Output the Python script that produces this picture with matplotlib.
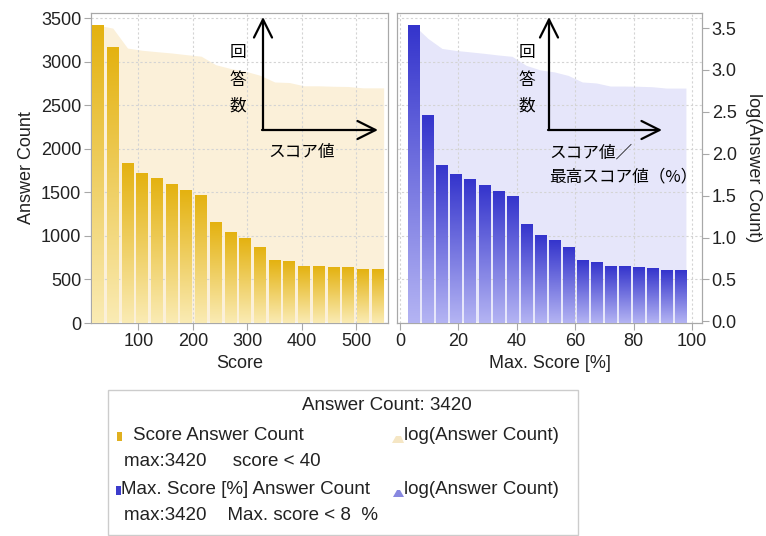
import numpy as np
import matplotlib
matplotlib.use("Agg")
import matplotlib.pyplot as plt
from matplotlib.colors import LinearSegmentedColormap
from matplotlib.patches import Rectangle, Polygon

# data
score_bins = [26, 53, 80, 107, 134, 161, 188, 215, 242, 269,
              296, 323, 350, 377, 404, 431, 458, 485, 512, 539]
score_counts = [3420, 3160, 1825, 1718, 1653, 1595, 1523, 1461, 1155, 1041,
                968, 865, 719, 708, 647, 647, 639, 635, 612, 612]

pct_bins = [4.8, 9.6, 14.4, 19.2, 24.0, 28.8, 33.6, 38.4, 43.2, 48.0,
            52.8, 57.6, 62.4, 67.2, 72.0, 76.8, 81.6, 86.4, 91.2, 96.0]
pct_counts = [3420, 2380, 1806, 1710, 1645, 1580, 1511, 1454, 1136, 1002,
              949, 861, 719, 700, 643, 643, 639, 631, 608, 608]

score_ticks = [100, 200, 300, 400, 500]
pct_ticks = [0, 20, 40, 60, 80, 100]
count_ticks = [0, 500, 1000, 1500, 2000, 2500, 3000, 3500]
log_ticks = [0.0, 0.5, 1.0, 1.5, 2.0, 2.5, 3.0, 3.5]

W, H = 766, 536
plt.rcParams["font.family"] = ["Liberation Sans", "DejaVu Sans"]
CJK = ["Noto Sans CJK JP", "DejaVu Sans"]
TXT = "#222222"
GRID = "#d4d4d4"
SPINE = "#a8a8a8"

gold_cmap = LinearSegmentedColormap.from_list("gold", ["#FAEBB4", "#E4B210"])
blue_cmap = LinearSegmentedColormap.from_list("blue", ["#B4B4F3", "#3434CC"])


def frac(x0, y0, x1, y1):
    return [x0 / W, 1 - y1 / H, (x1 - x0) / W, (y1 - y0) / H]


def draw_panel(ax, ax_log, centers, counts, width, cmap, area_color, xlim):
    grad = np.linspace(0, 1, 256).reshape(-1, 1)
    for c, v in zip(centers, counts):
        ax.imshow(grad, extent=(c - width / 2, c + width / 2, 0, v),
                  origin="lower", cmap=cmap, aspect="auto", zorder=3)
    logs = np.log10(counts)
    xs = np.concatenate([[centers[0] - width / 2], centers, [centers[-1] + width / 2]])
    ys = np.concatenate([[logs[0]], logs, [logs[-1]]])
    ax_log.fill_between(xs, 0, ys, color=area_color, lw=0, zorder=1)
    ax.set_zorder(ax_log.get_zorder() + 1)
    ax.patch.set_visible(False)
    ax.set_xlim(*xlim)
    ax.set_ylim(0, 3558)
    ax_log.set_ylim(-0.02, 3.68)
    ax.set_yticks(count_ticks)
    ax_log.set_yticks(log_ticks)
    ax.grid(True, linestyle=(0, (2, 2)), color=GRID, lw=0.8)
    ax.set_axisbelow(True)
    for a in (ax, ax_log):
        for s in a.spines.values():
            s.set_color(SPINE)
        a.tick_params(colors=SPINE, labelcolor=TXT, labelsize=13, length=5, pad=2)


fig = plt.figure(figsize=(W / 100, H / 100), dpi=100)

ax1 = fig.add_axes(frac(91, 13, 388, 323))
ax1_log = ax1.twinx()
draw_panel(ax1, ax1_log, score_bins, score_counts, 22, gold_cmap, "#FBF0D9", (13, 558))
ax1.set_xticks(score_ticks)
ax1.set_xlabel("Score", fontsize=13, color=TXT)
ax1.set_ylabel("Answer Count", fontsize=13, color=TXT)
ax1_log.tick_params(right=False, labelright=False)

ax2 = fig.add_axes(frac(397, 13, 702, 323), sharey=ax1)
ax2_log = ax2.twinx()
draw_panel(ax2, ax2_log, pct_bins, pct_counts, 3.8, blue_cmap, "#E6E6FA", (-1, 103.4))
ax2.set_xticks(pct_ticks)
ax2.set_xlabel("Max. Score [%]", fontsize=13, color=TXT)
ax2.tick_params(left=False, labelleft=False)
ax2_log.set_yticklabels([f"{t:.1f}" for t in log_ticks])
ax2_log.set_ylabel("log(Answer Count)", fontsize=13, color=TXT, rotation=270, labelpad=18)

# overlay in pixel coordinates for arrows, notes and legend
ov = fig.add_axes([0, 0, 1, 1], zorder=10)
ov.set_xlim(0, W)
ov.set_ylim(H, 0)
ov.axis("off")
ov.patch.set_visible(False)

arrow = dict(arrowstyle="->,head_length=1.3,head_width=0.65", lw=1.6,
             color="black", shrinkA=0, shrinkB=0, mutation_scale=10)
for x0, x1 in ((263, 378), (549, 662)):
    ov.annotate("", xy=(x0, 17), xytext=(x0, 130), arrowprops=arrow)
    ov.annotate("", xy=(x1, 130), xytext=(x0 - 1, 130), arrowprops=arrow)

for xc in (238, 527):
    for ch, yc in zip("回答数", (52, 80, 106)):
        ov.text(xc, yc, ch, family=CJK, fontsize=12, ha="center", va="center", color="black")
ov.text(302, 153, "スコア値", family=CJK, fontsize=12, ha="center", va="center")
ov.text(549, 153, "スコア値／", family=CJK, fontsize=12, ha="left", va="center")
ov.text(549, 177, "最高スコア値（%）", family=CJK, fontsize=12, ha="left", va="center")

# legend box
LFS = 13.5
ov.add_patch(Rectangle((108, 390), 470, 145, fc="white", ec="#cccccc", lw=1))
ov.text(387, 405, "Answer Count: 3420", fontsize=LFS, ha="center", va="center", color=TXT)
ov.add_patch(Rectangle((117, 432), 5, 9, fc="#E0B020", ec="none"))
ov.text(133, 436, "Score Answer Count", fontsize=LFS, va="center", color=TXT)
ov.text(124, 462, "max:3420     score < 40", fontsize=LFS, va="center", color=TXT)
ov.add_patch(Polygon([(392, 443), (396, 436), (401, 436), (404, 443)], fc="#F5E6C4", ec="none"))
ov.text(404, 436, "log(Answer Count)", fontsize=LFS, va="center", color=TXT)
ov.add_patch(Rectangle((116, 486), 5, 9, fc="#3C3CCC", ec="none"))
ov.text(121, 490, "Max. Score [%] Answer Count", fontsize=LFS, va="center", color=TXT)
ov.text(124, 516, "max:3420    Max. score < 8  %", fontsize=LFS, va="center", color=TXT)
ov.add_patch(Polygon([(393, 497), (397, 490), (400, 490), (404, 497)], fc="#8888E0", ec="none"))
ov.text(404, 490, "log(Answer Count)", fontsize=LFS, va="center", color=TXT)

fig.savefig("out.png", dpi=100)
plt.close(fig)
